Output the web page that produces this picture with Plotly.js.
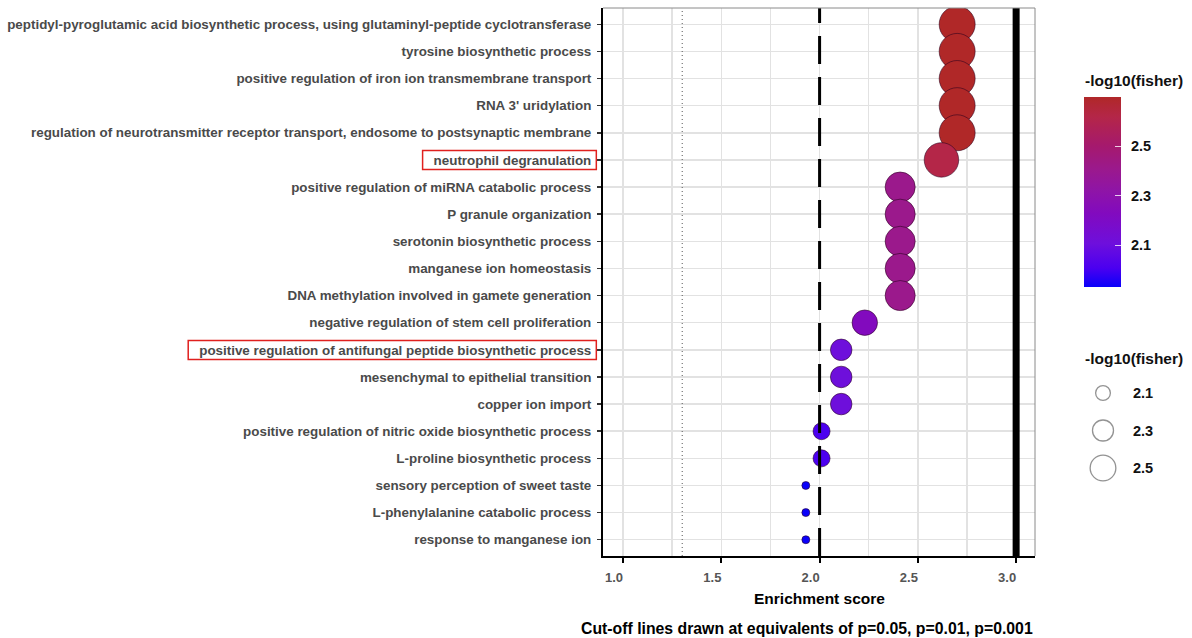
<!DOCTYPE html>
<html>
<head>
<meta charset="utf-8">
<script src="https://cdn.plot.ly/plotly-3.0.1.min.js"></script>
<style>
  html, body { margin: 0; padding: 0; background: #ffffff; }
  #chart { width: 1192px; height: 638px; }
</style>
</head>
<body>
<div id="chart"></div>
<script>
// GO terms, listed top to bottom
const terms = [
  "peptidyl-pyroglutamic acid biosynthetic process, using glutaminyl-peptide cyclotransferase",
  "tyrosine biosynthetic process",
  "positive regulation of iron ion transmembrane transport",
  "RNA 3' uridylation",
  "regulation of neurotransmitter receptor transport, endosome to postsynaptic membrane",
  "neutrophil degranulation",
  "positive regulation of miRNA catabolic process",
  "P granule organization",
  "serotonin biosynthetic process",
  "manganese ion homeostasis",
  "DNA methylation involved in gamete generation",
  "negative regulation of stem cell proliferation",
  "positive regulation of antifungal peptide biosynthetic process",
  "mesenchymal to epithelial transition",
  "copper ion import",
  "positive regulation of nitric oxide biosynthetic process",
  "L-proline biosynthetic process",
  "sensory perception of sweet taste",
  "L-phenylalanine catabolic process",
  "response to manganese ion"
];

// Enrichment score = -log10(fisher p)
const enrichment = [
  2.70, 2.70, 2.70, 2.70, 2.70,
  2.62,
  2.41, 2.41, 2.41, 2.41, 2.41,
  2.23,
  2.11, 2.11, 2.11,
  2.01, 2.01,
  1.93, 1.93, 1.93
];

// significance cut-offs
const cutoffP = [0.05, 0.01, 0.001];

const xTickVals = [1.0, 1.5, 2.0, 2.5, 3.0];
const colorTickVals = [2.1, 2.3, 2.5];
const sizeLegendVals = [2.1, 2.3, 2.5];

const highlightedTerms = [
  "neutrophil degranulation",
  "positive regulation of antifungal peptide biosynthetic process"
];

// ---- page geometry (pixels) ----
const W = 1192, H = 638;
const px = v => v / W;          // pixel x -> paper x
const py = v => 1 - v / H;      // pixel y -> paper y
const plotL = 603, plotR = 1035, plotT = 8, plotB = 556;
const barL = 1084, barTop = 97, barLen = 190, barW = 37;

const FONT = "Liberation Sans, Arial, Helvetica, sans-serif";

// colour ramp blue -> purple -> firebrick
const colorscale = [
  [0.000, "#0A00FA"], [0.100, "#4B00F0"], [0.230, "#6E0FDC"],
  [0.390, "#820ABE"], [0.500, "#8E14A8"], [0.623, "#9B198C"],
  [0.740, "#A5196E"], [0.896, "#B42648"], [1.000, "#B02828"]
];

const vMin = Math.min(...enrichment);
const vMax = Math.max(...enrichment);
const scaled = v => Math.max(0, (v - vMin) / (vMax - vMin));
// area-proportional size scale
const pointSize = v => 5.6 * (1 + 5 * Math.sqrt(scaled(v))) + 2.4;
const legendSize = v => 5.6 * (1 + 5 * Math.sqrt(scaled(v))) - 4;

const points = {
  type: "scatter",
  mode: "markers",
  x: enrichment,
  y: terms,
  xaxis: "x",
  yaxis: "y",
  marker: {
    color: enrichment,
    cmin: vMin,
    cmax: vMax,
    colorscale: colorscale,
    size: enrichment.map(pointSize),
    opacity: 1,
    line: { color: "rgba(40,0,30,0.55)", width: 1 },
    colorbar: {
      x: px(barL), xanchor: "left", xpad: 0,
      y: py(barTop + barLen / 2), yanchor: "middle", ypad: 0,
      len: barLen, lenmode: "pixels",
      thickness: barW,
      outlinewidth: 0,
      tickmode: "array",
      tickvals: colorTickVals,
      ticktext: colorTickVals.map(() => ""),
      ticks: "inside",
      ticklen: 6,
      tickwidth: 1,
      tickcolor: "rgba(255,255,255,0.8)",
      tickfont: { family: FONT, size: 1, color: "#111" }
    }
  },
  showlegend: false,
  hoverinfo: "skip"
};

const legendIdx = sizeLegendVals.map((_, i) => i);
const sizeKeys = {
  type: "scatter",
  mode: "markers",
  x: sizeLegendVals.map(() => 19),
  y: legendIdx,
  xaxis: "x2",
  yaxis: "y2",
  marker: {
    size: sizeLegendVals.map(legendSize),
    color: "rgba(255,255,255,0)",
    line: { color: "#666", width: 1.3 }
  },
  showlegend: false,
  hoverinfo: "skip"
};

// cut-off lines at -log10(p)
const lineStyles = [
  { color: "#555", width: 1, dash: "1px,3px" },
  { color: "#000", width: 3, dash: "28px,13px" },
  { color: "#000", width: 7, dash: "solid" }
];
const shapes = cutoffP.map((p, i) => ({
  type: "line", xref: "x", yref: "y domain",
  x0: -Math.log10(p), x1: -Math.log10(p), y0: 0, y1: 1,
  line: lineStyles[i], layer: "above"
}));
// panel border (top and right)
shapes.push({ type: "line", xref: "paper", yref: "paper",
  x0: px(plotL), x1: px(plotR), y0: py(plotT), y1: py(plotT),
  line: { color: "#8a8a8a", width: 1 } });
shapes.push({ type: "line", xref: "paper", yref: "paper",
  x0: px(plotR), x1: px(plotR), y0: py(plotT), y1: py(plotB),
  line: { color: "#8a8a8a", width: 1 } });
// colour bar ticks on the left edge as well
colorTickVals.forEach(v => {
  const yy = barTop + (vMax - v) / (vMax - vMin) * barLen;
  shapes.push({ type: "line", xref: "paper", yref: "paper",
    x0: px(barL), x1: px(barL + 6), y0: py(yy), y1: py(yy),
    line: { color: "rgba(255,255,255,0.8)", width: 1 } });
});

const annotations = [
  { text: "Enrichment score", xref: "paper", yref: "paper",
    x: px((plotL + plotR) / 2), y: py(598), xanchor: "center", yanchor: "middle",
    showarrow: false, font: { family: FONT, size: 15.5, color: "#000", weight: "bold" } },
  { text: "Cut-off lines drawn at equivalents of p=0.05, p=0.01, p=0.001",
    xref: "paper", yref: "paper",
    x: px(plotR), y: py(628), xanchor: "right", yanchor: "middle",
    showarrow: false, font: { family: FONT, size: 15.8, color: "#000", weight: "bold" } },
  { text: "-log10(fisher)", xref: "paper", yref: "paper",
    x: px(1083), y: py(81), xanchor: "left", yanchor: "middle",
    showarrow: false, font: { family: FONT, size: 15.5, color: "#111", weight: "bold" } },
  { text: "-log10(fisher)", xref: "paper", yref: "paper",
    x: px(1083), y: py(358), xanchor: "left", yanchor: "middle",
    showarrow: false, font: { family: FONT, size: 15.5, color: "#111", weight: "bold" } }
];
// colour bar labels
colorTickVals.forEach(v => annotations.push({
  text: v.toFixed(1), xref: "paper", yref: "paper",
  x: px(barL + barW + 8), y: py(barTop + (vMax - v) / (vMax - vMin) * barLen),
  xanchor: "left", yanchor: "middle", showarrow: false,
  font: { family: FONT, size: 14.5, color: "#111", weight: "bold" }
}));
// size legend labels
sizeLegendVals.forEach((v, i) => annotations.push({
  text: v.toFixed(1), xref: "x2", yref: "y2", x: 47, y: i,
  xanchor: "left", yanchor: "middle", showarrow: false,
  font: { family: FONT, size: 14.5, color: "#111", weight: "bold" }
}));

const gridColor = "#e2e2e2";

const layout = {
  width: W, height: H,
  margin: { l: 0, r: 0, t: 0, b: 0 },
  paper_bgcolor: "#ffffff",
  plot_bgcolor: "#ffffff",
  hovermode: false,
  xaxis: {
    domain: [px(plotL), px(plotR)],
    anchor: "y",
    range: [0.898, 3.096],
    tickmode: "array",
    tickvals: xTickVals,
    ticktext: xTickVals.map(v => v.toFixed(1)),
    ticks: "outside", ticklen: 5, tickwidth: 2, tickcolor: "#000",
    ticklabelshift: -9,
    ticklabelstandoff: 3,
    tickfont: { family: FONT, size: 13, color: "#555", weight: "bold" },
    showgrid: true, gridcolor: gridColor, gridwidth: 1.5,
    minor: { dtick: 0.25, tick0: 1, showgrid: true, gridcolor: gridColor, gridwidth: 1.5, ticks: "" },
    zeroline: false,
    showline: true, linecolor: "#000", linewidth: 2,
    automargin: false, fixedrange: true
  },
  yaxis: {
    domain: [py(plotB), py(plotT)],
    anchor: "x",
    type: "category",
    categoryorder: "array",
    categoryarray: terms,
    range: [terms.length - 0.4, -0.6],
    ticks: "outside", ticklen: 4, tickwidth: 1.5, tickcolor: "#333",
    ticklabelstandoff: 3,
    tickfont: { family: FONT, size: 13.4, color: "#4a4a4a", weight: "bold" },
    showgrid: true, gridcolor: gridColor, gridwidth: 1.5,
    zeroline: false,
    showline: true, linecolor: "#000", linewidth: 2,
    automargin: false, fixedrange: true
  },
  xaxis2: {
    domain: [px(1084), px(1190)], anchor: "y2",
    range: [0, 106], visible: false, fixedrange: true
  },
  yaxis2: {
    domain: [py(505.5), py(355.5)], anchor: "x2",
    range: [3, -1], visible: false, fixedrange: true
  },
  shapes: shapes,
  annotations: annotations
};

Plotly.newPlot("chart", [points, sizeKeys], layout, { displayModeBar: false, staticPlot: true })
  .then(gd => {
    // red frames around the highlighted term labels
    const boxes = [];
    gd.querySelectorAll(".yaxislayer-above .ytick text").forEach(t => {
      if (highlightedTerms.includes(t.textContent)) {
        const r = t.getBoundingClientRect();
        const cy = (r.top + r.bottom) / 2;
        boxes.push({
          type: "rect", xref: "paper", yref: "paper",
          x0: px(r.left - 11), x1: px(r.right + 5),
          y0: py(cy + 9.5), y1: py(cy - 9.5),
          line: { color: "#e0201e", width: 1.5 },
          fillcolor: "rgba(0,0,0,0)"
        });
      }
    });
    return Plotly.relayout(gd, { shapes: shapes.concat(boxes) });
  });
</script>
</body>
</html>
